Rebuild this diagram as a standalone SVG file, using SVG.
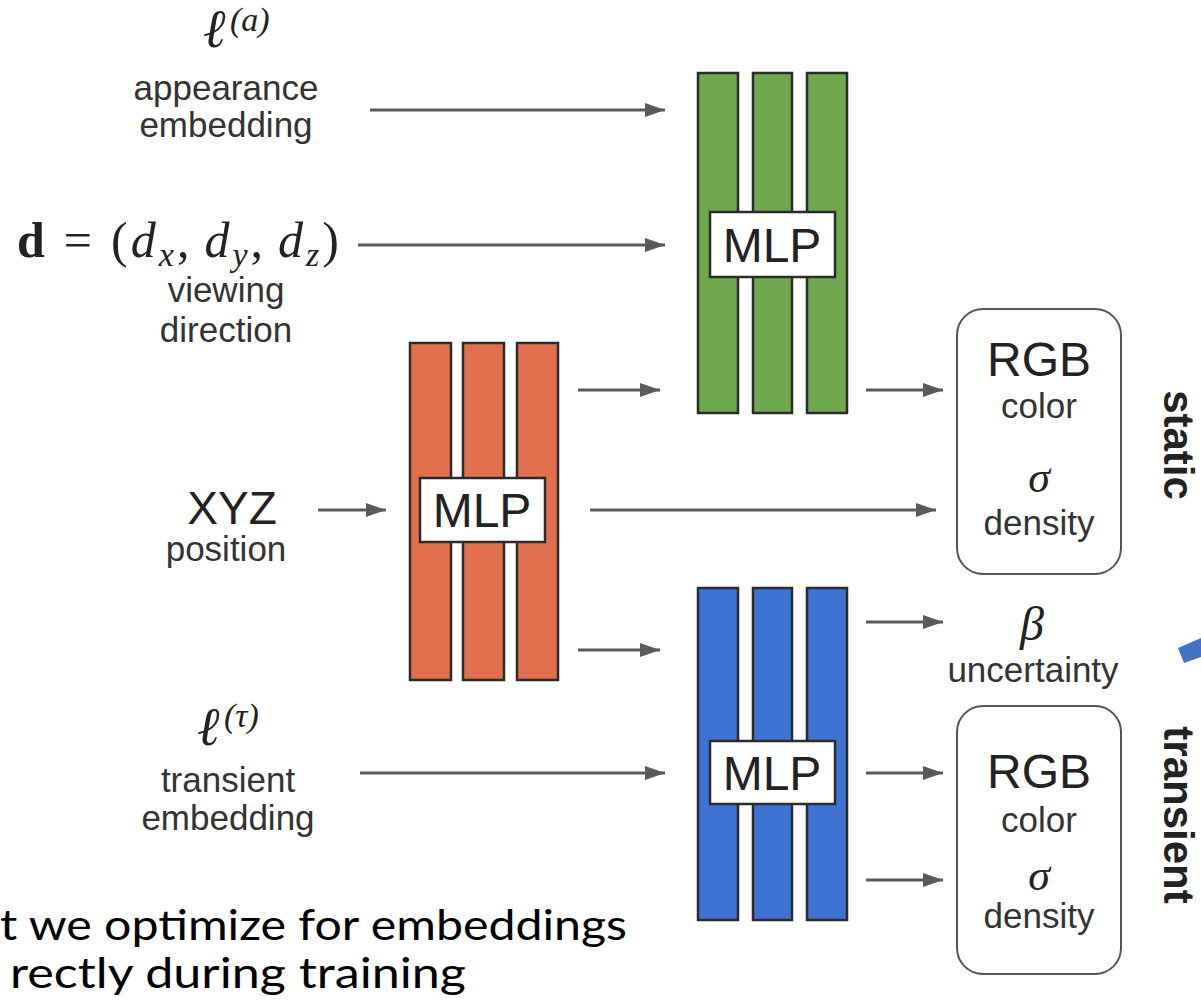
<svg xmlns="http://www.w3.org/2000/svg" width="1201" height="1001" viewBox="0 0 1201 1001">
<style>
.lbl{font-family:"Liberation Sans",Arial,sans-serif;fill:#333;font-size:35px;text-anchor:middle}
.big{font-family:"Liberation Sans",Arial,sans-serif;fill:#222;text-anchor:middle}
.math{font-family:"Liberation Serif","DejaVu Serif",serif;fill:#222;font-style:italic}
.side{font-family:"Liberation Sans",Arial,sans-serif;fill:#222;font-weight:bold;font-size:42px;text-anchor:middle}
.bar{stroke:#2b2b2b;stroke-width:2.5}
.g{fill:#6ea84f}.o{fill:#e2704f}.b{fill:#3f73d3}
.mlpbox{fill:#fff;stroke:#2b2b2b;stroke-width:2.5}
.out{fill:#fff;stroke:#555;stroke-width:2}
.conn line{stroke:#5a5a5a;stroke-width:3;marker-end:url(#ah)}
.note{font-family:"Lato","Open Sans",sans-serif;fill:#000;font-size:42px}
</style>
<defs>
<marker id="ah" markerUnits="userSpaceOnUse" markerWidth="22" markerHeight="16" refX="20" refY="7" orient="auto">
<path d="M0,0 L20,7 L0,14 z" fill="#5a5a5a"/>
</marker>
</defs>
<rect width="1201" height="1001" fill="#fff"/>

<g id="appearance-embedding">
<text class="math" x="203" y="47" font-size="54">ℓ</text>
<text class="math" x="230" y="31" font-size="34">(<tspan>a</tspan>)</text>
<text class="lbl" x="226" y="100">appearance</text>
<text class="lbl" x="226" y="137">embedding</text>
</g>

<g id="viewing-direction">
<text x="17" y="257" font-family="Liberation Serif,DejaVu Serif,serif" font-size="50" fill="#222" textLength="322" lengthAdjust="spacing"><tspan font-weight="bold">d</tspan><tspan dx="16">=</tspan><tspan dx="16">(</tspan><tspan font-style="italic">d</tspan><tspan font-style="italic" font-size="34" dy="9">x</tspan><tspan dy="-9">,</tspan><tspan dx="12" font-style="italic">d</tspan><tspan font-style="italic" font-size="34" dy="9">y</tspan><tspan dy="-9">,</tspan><tspan dx="12" font-style="italic">d</tspan><tspan font-style="italic" font-size="34" dy="9">z</tspan><tspan dy="-9">)</tspan></text>
<text class="lbl" x="226" y="302">viewing</text>
<text class="lbl" x="226" y="342">direction</text>
</g>

<g id="xyz-position">
<text class="big" x="232" y="524" font-size="46">XYZ</text>
<text class="lbl" x="226" y="561">position</text>
</g>

<g id="transient-embedding">
<text class="math" x="197" y="745" font-size="54">ℓ</text>
<text class="math" x="224" y="727" font-size="34">(τ)</text>
<text class="lbl" x="228" y="792">transient</text>
<text class="lbl" x="228" y="830">embedding</text>
</g>

<g id="mlp-static">
<rect class="bar g" x="698" y="73" width="40" height="340"/>
<rect class="bar g" x="753" y="73" width="39" height="340"/>
<rect class="bar g" x="807" y="73" width="40" height="340"/>
<rect class="mlpbox" x="710" y="212" width="125" height="65"/>
<text class="big" x="772" y="262" font-size="48">MLP</text>
</g>

<g id="mlp-base">
<rect class="bar o" x="410" y="343" width="41" height="337"/>
<rect class="bar o" x="463" y="343" width="41" height="337"/>
<rect class="bar o" x="517" y="343" width="41" height="337"/>
<rect class="mlpbox" x="420" y="478" width="125" height="64"/>
<text class="big" x="482" y="527" font-size="48">MLP</text>
</g>

<g id="mlp-transient">
<rect class="bar b" x="698" y="588" width="40" height="332"/>
<rect class="bar b" x="753" y="588" width="39" height="332"/>
<rect class="bar b" x="807" y="588" width="40" height="332"/>
<rect class="mlpbox" x="710" y="741" width="125" height="63"/>
<text class="big" x="772" y="790" font-size="48">MLP</text>
</g>

<g id="static-output">
<rect class="out" x="957" y="309" width="164" height="265" rx="26"/>
<text class="big" x="1039" y="376" font-size="48">RGB</text>
<text class="lbl" x="1039" y="418">color</text>
<text class="math" x="1039" y="492" font-size="44" text-anchor="middle">σ</text>
<text class="lbl" x="1039" y="535">density</text>
<text class="side" transform="translate(1164,445) rotate(90)">static</text>
</g>

<g id="uncertainty">
<text class="math" x="1032" y="640" font-size="48" text-anchor="middle">β</text>
<text class="lbl" x="1033" y="682">uncertainty</text>
</g>

<g id="transient-output">
<rect class="out" x="957" y="706" width="164" height="268" rx="26"/>
<text class="big" x="1039" y="788" font-size="48">RGB</text>
<text class="lbl" x="1039" y="832">color</text>
<text class="math" x="1039" y="890" font-size="44" text-anchor="middle">σ</text>
<text class="lbl" x="1039" y="928">density</text>
<text class="side" transform="translate(1164,815) rotate(90)">transient</text>
</g>

<g class="conn" id="connectors">
<line x1="370" y1="110" x2="665" y2="110"/>
<line x1="358" y1="245" x2="665" y2="245"/>
<line x1="318" y1="510" x2="386" y2="510"/>
<line x1="578" y1="390" x2="660" y2="390"/>
<line x1="590" y1="510" x2="936" y2="510"/>
<line x1="578" y1="650" x2="660" y2="650"/>
<line x1="866" y1="390" x2="943" y2="390"/>
<line x1="866" y1="622" x2="943" y2="622"/>
<line x1="866" y1="773" x2="943" y2="773"/>
<line x1="866" y1="880" x2="943" y2="880"/>
<line x1="360" y1="773" x2="665" y2="773"/>
</g>

<text class="note" x="0" y="940" textLength="627" lengthAdjust="spacingAndGlyphs">t we optimize for embeddings</text>
<text class="note" x="10" y="988" textLength="456" lengthAdjust="spacingAndGlyphs">rectly during training</text>
<polygon points="1178,648 1201,638 1201,657 1184,663" fill="#4472c4"/>
</svg>
